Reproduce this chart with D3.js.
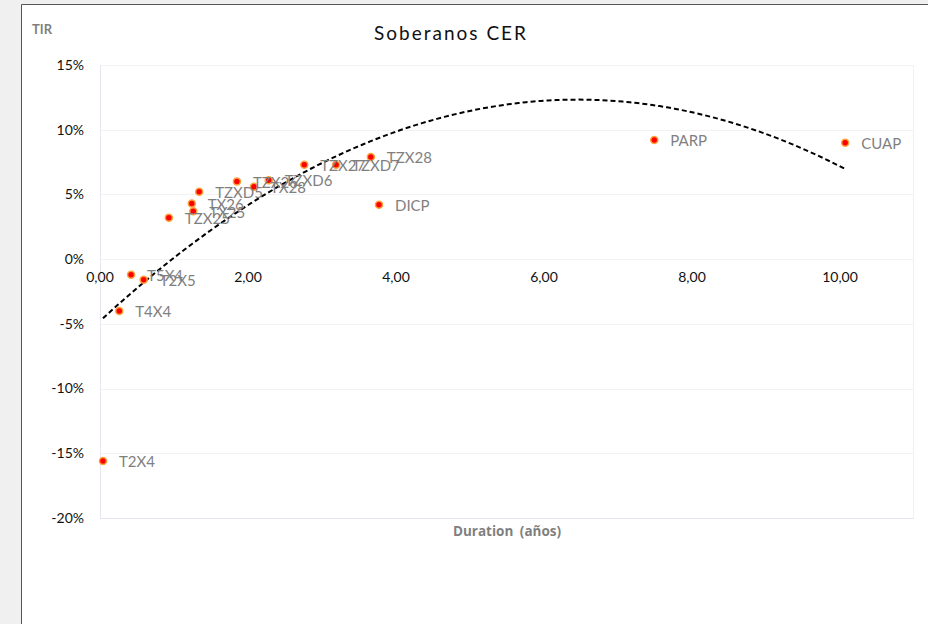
<!DOCTYPE html>
<html lang="es">
<head>
    <meta charset="UTF-8">
    <title>Soberanos CER</title>
    <script src="https://d3js.org/d3.v7.min.js"></script>
    <style>
        body { margin: 0; background: #f0f0f0; }
        svg { display: block; font-family: Lato, "Open Sans", sans-serif; }
    </style>
</head>
<body>
    <div id="chart"></div>
    <script>
        // bonos CER: ticker, duration (años), TIR (%)
        const tickers   = ["T2X4", "T4X4", "T5X4", "T2X5", "TZX25", "TX26", "TX25", "TZXD5", "TZX26", "TX28", "TZXD6", "TZX27", "TZXD7", "TZX28", "DICP", "PARP", "CUAP"];
        const durations = [0.04, 0.26, 0.42, 0.59, 0.93, 1.24, 1.26, 1.34, 1.85, 2.08, 2.28, 2.76, 3.19, 3.66, 3.77, 7.49, 10.07];
        const tirs      = [-15.6, -4.0, -1.2, -1.6, 3.2, 4.3, 3.7, 5.2, 6.0, 5.6, 6.1, 7.3, 7.3, 7.9, 4.2, 9.2, 9.0];
        const xTicks = [0, 2, 4, 6, 8, 10];
        const yTicks = [-20, -15, -10, -5, 0, 5, 10, 15];

        const W = 928, H = 624;
        const svg = d3.select("#chart").append("svg")
            .attr("width", W).attr("height", H);

        // chart frame
        svg.append("rect").attr("x", 21).attr("y", 4).attr("width", W - 21).attr("height", H - 4)
            .attr("fill", "#fff");
        svg.append("path").attr("d", `M21.5,${H}V4.5H${W}`)
            .attr("fill", "none").attr("stroke", "#555").attr("stroke-width", 1);

        const x = d3.scaleLinear().domain([0, 11]).range([100, 914]);
        const y = d3.scaleLinear().domain([-20, 15]).range([518, 65]);

        // gridlines
        svg.append("g").selectAll("line").data(yTicks).join("line")
            .attr("x1", x(0)).attr("x2", x(11))
            .attr("y1", d => Math.round(y(d)) + 0.5).attr("y2", d => Math.round(y(d)) + 0.5)
            .attr("stroke", d => d === -20 ? "#e6e6f2" : "#f2f2f2");
        svg.append("line").attr("x1", x(0) + 0.5).attr("x2", x(0) + 0.5)
            .attr("y1", y(15)).attr("y2", y(-20)).attr("stroke", "#e6e6f2");
        svg.append("line").attr("x1", x(11) - 0.5).attr("x2", x(11) - 0.5)
            .attr("y1", y(15)).attr("y2", y(-20)).attr("stroke", "#f0f0f0");

        // y axis labels
        svg.append("g").selectAll("text").data(yTicks).join("text")
            .attr("x", 84).attr("y", d => y(d)).attr("dy", "0.35em")
            .attr("text-anchor", "end").attr("font-size", 14).attr("fill", "#111")
            .text(d => d + "%");

        // x axis labels (axis crosses at 0%)
        const fmt = d3.formatLocale({ decimal: ",", thousands: ".", grouping: [3], currency: ["$", ""] }).format(".2f");
        svg.append("g").selectAll("text").data(xTicks).join("text")
            .attr("x", d => x(d)).attr("y", y(0) + 18).attr("dy", "0.35em")
            .attr("text-anchor", "middle").attr("font-size", 14).attr("fill", "#111")
            .text(d => fmt(d));

        // polynomial trend (order 2), least squares over the points
        function polyFit(xs, ys) {
            const n = xs.length;
            let s = [0, 0, 0, 0, 0], t = [0, 0, 0];
            for (let i = 0; i < n; i++) {
                for (let k = 0; k < 5; k++) s[k] += Math.pow(xs[i], k);
                for (let k = 0; k < 3; k++) t[k] += ys[i] * Math.pow(xs[i], k);
            }
            const A = [[s[0], s[1], s[2], t[0]], [s[1], s[2], s[3], t[1]], [s[2], s[3], s[4], t[2]]];
            for (let i = 0; i < 3; i++) {
                for (let j = i + 1; j < 3; j++) {
                    const f = A[j][i] / A[i][i];
                    for (let k = i; k < 4; k++) A[j][k] -= f * A[i][k];
                }
            }
            const c = [0, 0, 0];
            for (let i = 2; i >= 0; i--) {
                let v = A[i][3];
                for (let k = i + 1; k < 3; k++) v -= A[i][k] * c[k];
                c[i] = v / A[i][i];
            }
            return c;
        }
        const coef = polyFit(durations, tirs);
        const x0 = d3.min(durations), x1 = d3.max(durations);
        const trend = d3.range(0, 101).map(i => {
            const xv = x0 + (x1 - x0) * i / 100;
            return [xv, coef[0] + coef[1] * xv + coef[2] * xv * xv];
        });
        svg.append("path").datum(trend)
            .attr("fill", "none").attr("stroke", "#000").attr("stroke-width", 2)
            .attr("stroke-dasharray", "5,3")
            .attr("d", d3.line().x(d => x(d[0])).y(d => y(d[1])));

        // points
        const pts = tickers.map((t, i) => ({ t, d: durations[i], r: tirs[i] }));
        svg.append("g").selectAll("circle").data(pts).join("circle")
            .attr("cx", d => x(d.d)).attr("cy", d => y(d.r)).attr("r", 3.5)
            .attr("fill", "#ff0000").attr("stroke", "#ffa23a").attr("stroke-width", 1.5);

        svg.append("g").selectAll("text").data(pts).join("text")
            .attr("x", d => x(d.d) + 16).attr("y", d => y(d.r) + 1).attr("dy", "0.35em")
            .attr("font-size", 15).attr("fill", "#7f7f7f")
            .text(d => d.t);

        // titles
        svg.append("text").attr("x", 451).attr("y", 33).attr("dy", "0.35em")
            .attr("text-anchor", "middle").attr("font-size", 19).attr("letter-spacing", 2)
            .attr("fill", "#111").text("Soberanos CER");
        svg.append("text").attr("x", 32).attr("y", 29).attr("dy", "0.35em")
            .attr("font-size", 13).attr("font-weight", "bold").attr("fill", "#7f7f7f").text("TIR");
        svg.append("text").attr("x", 507).attr("y", 531).attr("dy", "0.35em")
            .attr("text-anchor", "middle").attr("font-size", 13.5).attr("font-weight", "bold")
            .attr("font-family", "'Open Sans', sans-serif").attr("word-spacing", 3)
            .attr("fill", "#7f7f7f").text("Duration (años)");
    </script>
</body>
</html>
